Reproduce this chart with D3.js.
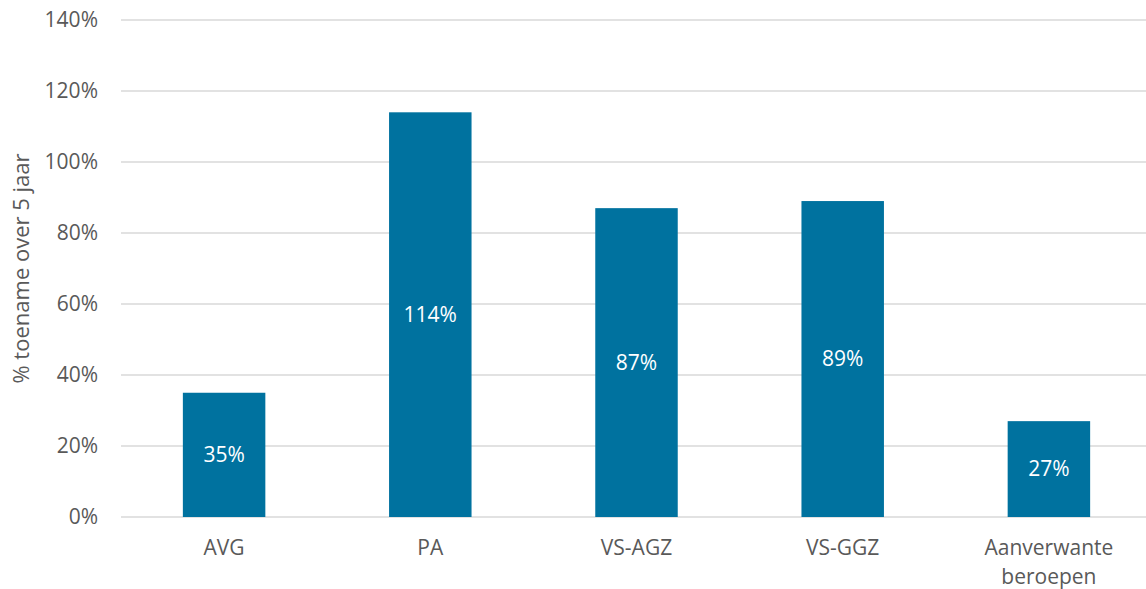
<!DOCTYPE html>
<html>
<head>
<meta charset="utf-8">
<script src="https://cdn.jsdelivr.net/npm/d3@7"></script>
<style>
  html, body { margin: 0; padding: 0; background: #fff; }
  svg { display: block; font-family: "Open Sans", sans-serif; }
</style>
</head>
<body>
<svg id="chart" width="1146" height="589"></svg>
<script>
// Groei per beroepsgroep over vijf jaar
const categories = ["AVG", "PA", "VS-AGZ", "VS-GGZ", "Aanverwante beroepen"];
const values = [35, 114, 87, 89, 27];
const yTicks = [0, 20, 40, 60, 80, 100, 120, 140];
const yTitle = "% toename over 5 jaar";

const svg = d3.select("#chart");
const margin = { left: 121, right: -6, top: 20, bottom: 72 };
const width = 1146, height = 589;
const fontSize = 21;

const x = d3.scaleBand()
  .domain(categories)
  .range([margin.left, width - margin.right])
  .paddingInner(0.6)
  .paddingOuter(0.3);

const y = d3.scaleLinear()
  .domain([0, 140])
  .range([517, margin.top]);

// horizontal gridlines
svg.append("g")
  .selectAll("line")
  .data(yTicks)
  .join("line")
  .attr("x1", margin.left)
  .attr("x2", width)
  .attr("y1", d => y(d))
  .attr("y2", d => y(d))
  .attr("stroke", "#d9d9d9")
  .attr("stroke-width", 1.5);

// y tick labels
svg.append("g")
  .selectAll("text")
  .data(yTicks)
  .join("text")
  .attr("x", 98)
  .attr("y", d => y(d))
  .attr("dy", "0.35em")
  .attr("text-anchor", "end")
  .attr("font-size", fontSize)
  .attr("fill", "#595959")
  .text(d => d + "%");

// y axis title
svg.append("text")
  .attr("transform", `translate(29,${y(70)}) rotate(-90)`)
  .attr("text-anchor", "middle")
  .attr("font-size", 22)
  .attr("fill", "#595959")
  .text(yTitle);

// bars
svg.append("g")
  .selectAll("rect")
  .data(values)
  .join("rect")
  .attr("x", (d, i) => x(categories[i]))
  .attr("width", x.bandwidth())
  .attr("y", d => y(d))
  .attr("height", d => y(0) - y(d))
  .attr("fill", "#00729f");

// value labels centred in bars
svg.append("g")
  .selectAll("text")
  .data(values)
  .join("text")
  .attr("x", (d, i) => x(categories[i]) + x.bandwidth() / 2)
  .attr("y", d => (y(d) + y(0)) / 2)
  .attr("dy", "0.35em")
  .attr("text-anchor", "middle")
  .attr("font-size", fontSize)
  .attr("fill", "#ffffff")
  .text(d => d + "%");

// category labels (wrapped onto two lines where needed)
const catLabels = svg.append("g")
  .selectAll("text")
  .data(categories)
  .join("text")
  .attr("x", d => x(d) + x.bandwidth() / 2)
  .attr("y", 548)
  .attr("text-anchor", "middle")
  .attr("font-size", fontSize)
  .attr("fill", "#595959");

catLabels.each(function(d) {
  const words = d.split(" ");
  const t = d3.select(this);
  words.forEach((w, i) => {
    t.append("tspan")
      .attr("x", t.attr("x"))
      .attr("dy", i === 0 ? "0.35em" : "1.35em")
      .text(w);
  });
});
</script>
</body>
</html>
